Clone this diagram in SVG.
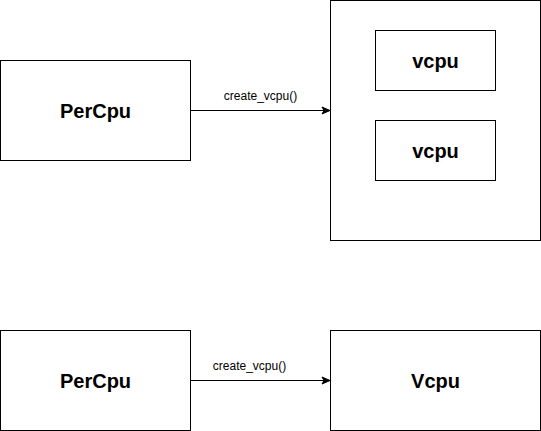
<svg xmlns="http://www.w3.org/2000/svg" width="541" height="431" viewBox="0 0 541 431">
<defs>
<style>
.box{fill:#fff;stroke:#000;stroke-width:1}
.big{font-family:"Liberation Sans",Arial,sans-serif;font-weight:bold;font-size:20px;text-anchor:middle;fill:#000}
.lbl{font-family:"Liberation Sans",Arial,sans-serif;font-size:12px;text-anchor:middle;fill:#000}
.edge{stroke:#000;stroke-width:1;fill:none}
</style>
<marker id="arr" markerWidth="10" markerHeight="10" refX="9" refY="5" orient="auto" markerUnits="userSpaceOnUse">
<path d="M1,1.5 L9,5 L1,8.5 L3,5 Z" fill="#000" stroke="#000" stroke-width="1"/>
</marker>
</defs>
<rect width="541" height="431" fill="#fff"/>
<g id="percpu1"><rect class="box" x="0.5" y="60.5" width="190" height="100"/><text class="big" x="95.5" y="117.5">PerCpu</text></g>
<g id="container"><rect class="box" x="330.5" y="0.5" width="210" height="240"/></g>
<g id="vcpu1"><rect class="box" x="375.5" y="30.5" width="120" height="60"/><text class="big" x="435.5" y="67.5">vcpu</text></g>
<g id="vcpu2"><rect class="box" x="375.5" y="120.5" width="120" height="60"/><text class="big" x="435.5" y="157.5">vcpu</text></g>
<g id="percpu2"><rect class="box" x="0.5" y="330.5" width="190" height="100"/><text class="big" x="95.5" y="387.5">PerCpu</text></g>
<g id="vcpu3"><rect class="box" x="330.5" y="330.5" width="210" height="100"/><text class="big" x="435.5" y="387.5">Vcpu</text></g>
<g id="connectors">
<path class="edge" d="M190.5,110.5 L330,110.5" marker-end="url(#arr)"/>
<text class="lbl" x="260.5" y="100">create_vcpu()</text>
<path class="edge" d="M190.5,380.5 L330,380.5" marker-end="url(#arr)"/>
<text class="lbl" x="249.5" y="370">create_vcpu()</text>
</g>
</svg>
